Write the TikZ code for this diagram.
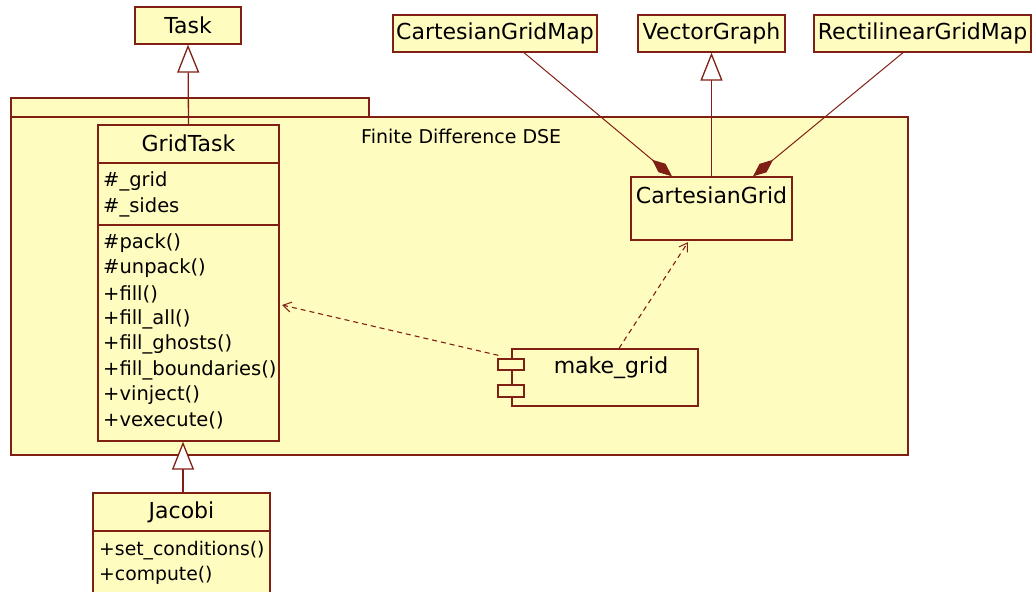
\documentclass[tikz,border=0pt]{standalone}
\usepackage{fontspec}
\setmainfont{DejaVu Sans}
\usetikzlibrary{arrows.meta,calc}
\definecolor{umlline}{RGB}{128,32,20}
\definecolor{umlfill}{RGB}{255,252,192}
\begin{document}
\begin{tikzpicture}[x=1pt,y=-1pt,
  box/.style={draw=umlline, fill=umlfill, line width=1.3pt, inner sep=0pt},
  divider/.style={draw=umlline, line width=1.3pt},
  title/.style={font=\fontsize{22}{25}\selectfont, inner sep=0pt},
  member/.style={font=\fontsize{19.5}{23}\selectfont, inner sep=0pt, anchor=west},
  smallmember/.style={member, font=\fontsize{18.8}{22}\selectfont},
  pkglabel/.style={font=\fontsize{19}{22}\selectfont, inner sep=0pt, anchor=west},
  inherit/.style={draw=umlline, line width=1.3pt, -{Triangle[open,length=28pt,width=22pt,fill=white,line width=1.3pt]}},
  comp/.style={draw=umlline, line width=1pt, -{Diamond[length=26pt,width=11pt,fill=umlline]}},
  dep/.style={draw=umlline, line width=1.1pt, dash pattern=on 5pt off 4pt, -{Straight Barb[length=8pt,width=10pt,line width=1pt]}}
]
\useasboundingbox (0,0) rectangle (1034,592);
\clip (0,0) rectangle (1034,592);

% package
\node[box, minimum width=358pt, minimum height=19pt] (tab) at (190,107.5) {};
\node[box, minimum width=897pt, minimum height=338pt] (pkg) at (459.5,286) {};
\node[pkglabel] (pkgname) at (361,136) {Finite Difference DSE};

% top classes
\node[box, minimum width=106pt, minimum height=37pt, title] (task) at (188,25.5) {Task};
\node[box, minimum width=204pt, minimum height=37pt, title] (cgm) at (495,33.5) {CartesianGridMap};
\node[box, minimum width=147pt, minimum height=37pt, title] (vg) at (711.5,33.5) {VectorGraph};
\node[box, minimum width=217pt, minimum height=37pt, title] (rgm) at (922.5,33.5) {RectilinearGridMap};

% CartesianGrid
\node[box, minimum width=161pt, minimum height=63pt] (cg) at (711.5,208.5) {};
\node[title] (cgname) at (711.5,195) {CartesianGrid};

% GridTask
\node[box, minimum width=181pt, minimum height=316pt] (gt) at (188.5,283) {};
\node[title] (gtname) at (188.5,143) {GridTask};
\draw[divider] (gt.west |- 0,163) -- (gt.east |- 0,163);
\draw[divider] (gt.west |- 0,225) -- (gt.east |- 0,225);
\node[member] (a1) at (103,181) {\#\_grid};
\node[member] (a2) at (103,207) {\#\_sides};
\node[member] (m1) at (103,243) {\#pack()};
\node[member] (m2) at (103,268.5) {\#unpack()};
\node[member] (m3) at (103,294) {+fill()};
\node[member] (m4) at (103,319) {+fill\_all()};
\node[member] (m5) at (103,344.5) {+fill\_ghosts()};
\node[member] (m6) at (103,370) {+fill\_boundaries()};
\node[member] (m7) at (103,395) {+vinject()};
\node[member] (m8) at (103,420) {+vexecute()};

% Jacobi
\node[box, minimum width=177pt, minimum height=117pt] (jac) at (181.5,551.5) {};
\node[title] (jacname) at (181.5,512) {Jacobi};
\draw[divider] (jac.west |- 0,531) -- (jac.east |- 0,531);
\node[smallmember] (j1) at (99,551) {+set\_conditions()};
\node[smallmember] (j2) at (99,575) {+compute()};

% make_grid component
\node[box, minimum width=186pt, minimum height=57pt] (mk) at (605,377.5) {};
\node[box, minimum width=26pt, minimum height=11pt] (mkp1) at (511,364.5) {};
\node[box, minimum width=26pt, minimum height=12pt] (mkp2) at (511,391) {};
\node[title, font=\fontsize{22}{25}\selectfont] (mkname) at (611,368) {make\_grid};

% connectors
\coordinate (ix) at (183,0);
\draw[inherit] (gt.north) -- (task.south);
\draw[inherit] (jac.north -| ix) -- (gt.south -| ix);
\draw[inherit] (cg.north) -- (vg.south);
\draw[comp] ($(cgm.south)+(29,0)$) -- ($(cg.north)+(-39.5,0)$);
\draw[comp] ($(rgm.south)+(-19.5,0)$) -- ($(cg.north)+(41.5,0)$);
\draw[dep] ($(mk.north)+(14,0)$) -- ($(cg.south)+(-23.5,1.5)$);
\draw[dep] ($(mkp1.north west)+(1,-3)$) -- ($(gt.east)+(2.5,22)$);
\end{tikzpicture}
\end{document}
